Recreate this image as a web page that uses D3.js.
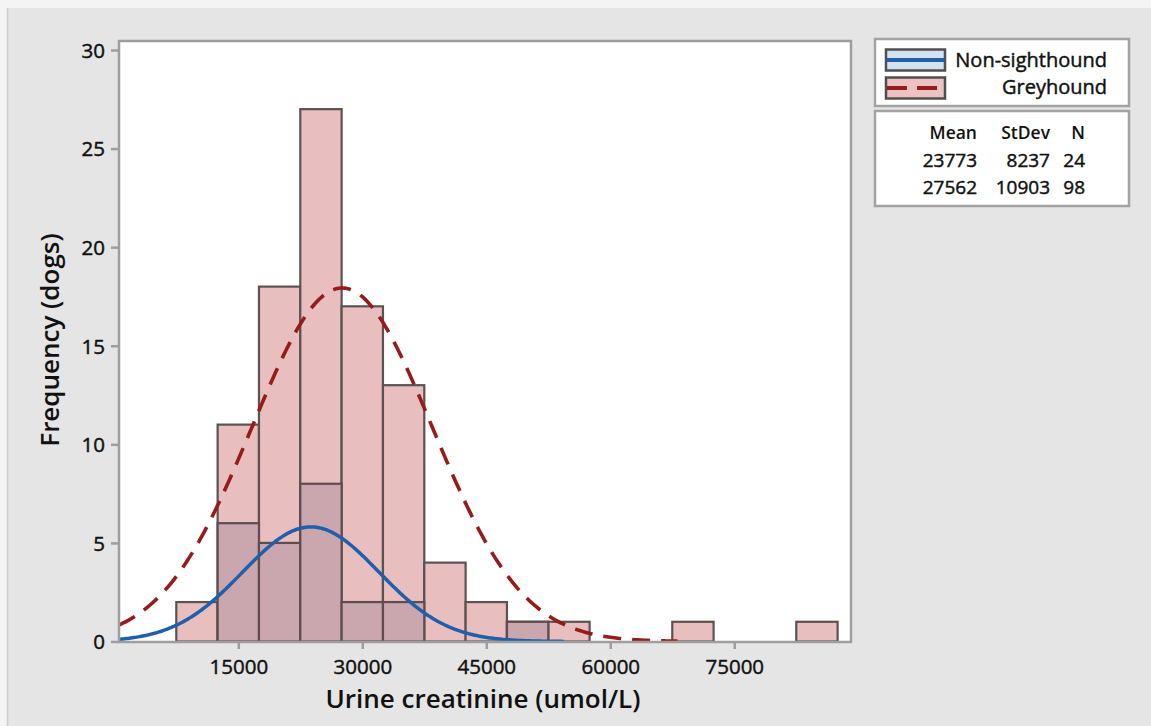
<!DOCTYPE html>
<html>
<head>
<meta charset="utf-8">
<script src="https://cdn.jsdelivr.net/npm/d3@7"></script>
<style>
  html, body { margin: 0; padding: 0; background: #f4f4f4; }
  svg { display: block; font-family: "Open Sans", "Noto Sans", sans-serif; }
</style>
</head>
<body>
<svg id="chart" width="1151" height="726"></svg>
<script>
// ---------- data ----------
const binCenters = [10000, 15000, 20000, 25000, 30000, 35000, 40000, 45000, 50000, 55000, 60000, 65000, 70000, 75000, 80000, 85000];
const binWidth = 5000;
const greyhoundCounts     = [2, 11, 18, 27, 17, 13, 4, 2, 1, 1, 0, 0, 1, 0, 0, 1];
const nonSighthoundCounts = [0, 6, 5, 8, 2, 2, 0, 0, 1, 0, 0, 0, 0, 0, 0, 0];
const groups = ["Non-sighthound", "Greyhound"];
const means  = [23773, 27562];
const stdevs = [8237, 10903];
const ns     = [24, 98];
const xTicks = [15000, 30000, 45000, 60000, 75000];
const yTicks = [0, 5, 10, 15, 20, 25, 30];

// ---------- layout ----------
const svg = d3.select("#chart");
const frame = {left: 119, top: 41, right: 851, bottom: 642};
const x = d3.scaleLinear().domain([0, 87500]).range([114.3, 837.6]);
const y = d3.scaleLinear().domain([0, 30]).range([641.5, 50]);

const pink = "#e9bebe", overlap = "#caa6ae", barStroke = "#5b5252";
const blue = "#1f5fac", red = "#961b1b";
const ink = "#111111";

function medium(sel) {
  return sel.attr("fill", ink).attr("stroke", ink).attr("stroke-width", 0.45);
}

// outer background
svg.append("rect").attr("x", 7).attr("y", 8).attr("width", 1144).attr("height", 718).attr("fill", "#e5e5e5");
svg.append("line").attr("x1", 7.5).attr("x2", 7.5).attr("y1", 8).attr("y2", 726).attr("stroke", "#cdcdcd").attr("stroke-width", 1.5);

// plot area
svg.append("rect").attr("x", frame.left).attr("y", frame.top)
  .attr("width", frame.right - frame.left).attr("height", frame.bottom - frame.top)
  .attr("fill", "#ffffff");

svg.append("defs").append("clipPath").attr("id", "clip")
  .append("rect").attr("x", frame.left).attr("y", frame.top)
  .attr("width", frame.right - frame.left).attr("height", frame.bottom - frame.top);

const plot = svg.append("g").attr("clip-path", "url(#clip)");

// greyhound bars
plot.selectAll("rect.grey").data(binCenters).join("rect")
  .attr("class", "grey")
  .attr("x", (d) => x(d - binWidth / 2))
  .attr("width", (d) => x(d + binWidth / 2) - x(d - binWidth / 2))
  .attr("y", (d, i) => y(greyhoundCounts[i]))
  .attr("height", (d, i) => y(0) - y(greyhoundCounts[i]))
  .attr("fill", pink).attr("stroke", barStroke).attr("stroke-width", 2.2);

// non-sighthound bars (overlaid)
plot.selectAll("rect.non").data(binCenters.filter((d, i) => nonSighthoundCounts[i] > 0)).join("rect")
  .attr("class", "non")
  .attr("x", (d) => x(d - binWidth / 2))
  .attr("width", (d) => x(d + binWidth / 2) - x(d - binWidth / 2))
  .attr("y", (d) => y(nonSighthoundCounts[binCenters.indexOf(d)]))
  .attr("height", (d) => y(0) - y(nonSighthoundCounts[binCenters.indexOf(d)]))
  .attr("fill", overlap).attr("stroke", "#5e4c4f").attr("stroke-width", 2.2);

// fitted normal curves
function normalCurve(g) {
  const m = means[g], s = stdevs[g], n = ns[g];
  const x0 = x.invert(frame.left), x1 = m + 3.72 * s;
  const pts = [];
  const steps = 300;
  for (let k = 0; k <= steps; k++) {
    const v = x0 + (x1 - x0) * k / steps;
    const z = (v - m) / s;
    pts.push([v, n * binWidth * Math.exp(-0.5 * z * z) / (s * Math.sqrt(2 * Math.PI))]);
  }
  return pts;
}
const line = d3.line().x((d) => x(d[0])).y((d) => y(d[1]));
plot.append("path").attr("d", line(normalCurve(0)))
  .attr("fill", "none").attr("stroke", blue).attr("stroke-width", 3.5);
plot.append("path").attr("d", line(normalCurve(1)))
  .attr("fill", "none").attr("stroke", red).attr("stroke-width", 3.6)
  .attr("stroke-dasharray", "18,11");

// frame
svg.append("path")
  .attr("d", `M${frame.left},${frame.top}H${frame.right}V${frame.bottom}H${frame.left}Z`)
  .attr("fill", "none").attr("stroke", "#9e9e9e").attr("stroke-width", 2.5);

// axes
const xAxis = svg.append("g").attr("transform", `translate(0,${frame.bottom})`)
  .call(d3.axisBottom(x).tickValues(xTicks).tickFormat(d3.format("d")).tickSize(7).tickPadding(8));
const yAxis = svg.append("g").attr("transform", `translate(${frame.left},0)`)
  .call(d3.axisLeft(y).tickValues(yTicks).tickSize(8).tickPadding(6));
[xAxis, yAxis].forEach((a) => {
  a.select(".domain").remove();
  a.selectAll(".tick line").attr("stroke", "#9e9e9e").attr("stroke-width", 2.5);
  medium(a.selectAll(".tick text")).attr("font-size", 20.5)
    .attr("font-family", '"Open Sans", sans-serif');
});
xAxis.selectAll(".tick text").attr("dy", null).attr("y", 32);
yAxis.selectAll(".tick text").attr("dy", "0.36em");

// axis titles
svg.append("text").attr("x", 483).attr("y", 708).attr("text-anchor", "middle")
  .attr("font-size", 26).attr("font-weight", 600).attr("fill", ink)
  .text("Urine creatinine (umol/L)");
svg.append("text").attr("transform", "translate(59,340) rotate(-90)").attr("text-anchor", "middle")
  .attr("font-size", 26).attr("font-weight", 600).attr("fill", ink)
  .text("Frequency (dogs)");

// legend
const leg = svg.append("g");
leg.append("rect").attr("x", 875).attr("y", 39).attr("width", 254).attr("height", 67)
  .attr("fill", "#fff").attr("stroke", "#a3a3a3").attr("stroke-width", 2.5);
const swFill = ["#d3e2f1", "#ecc2c2"];
const swColor = [blue, red];
groups.forEach((g, i) => {
  const sy = 49.5 + i * 28;
  leg.append("rect").attr("x", 886).attr("y", sy).attr("width", 59).attr("height", 21)
    .attr("fill", swFill[i]).attr("stroke", "#4f4f4f").attr("stroke-width", 2.5);
  leg.append("line").attr("x1", 887).attr("x2", 944).attr("y1", sy + 10.5).attr("y2", sy + 10.5)
    .attr("stroke", swColor[i]).attr("stroke-width", 3.8)
    .attr("stroke-dasharray", i === 1 ? "20,10" : null);
  medium(leg.append("text")).attr("x", 1107).attr("y", 66.5 + i * 27.5).attr("text-anchor", "end")
    .attr("font-size", 20).text(g);
});

// statistics table
const st = svg.append("g");
st.append("rect").attr("x", 875).attr("y", 111).attr("width", 254).attr("height", 95)
  .attr("fill", "#fff").attr("stroke", "#a3a3a3").attr("stroke-width", 2.5);
const colRight = [977, 1050, 1085];
const headers = ["Mean", "StDev", "N"];
headers.forEach((h, j) => {
  st.append("text").attr("x", colRight[j]).attr("y", 139).attr("text-anchor", "end")
    .attr("font-size", 17.5).attr("font-weight", 600).attr("fill", ink).text(h);
});
groups.forEach((g, i) => {
  [means[i], stdevs[i], ns[i]].forEach((v, j) => {
    medium(st.append("text")).attr("x", colRight[j]).attr("y", 166.5 + i * 27).attr("text-anchor", "end")
      .attr("font-size", 19).text(v);
  });
});
</script>
</body>
</html>
